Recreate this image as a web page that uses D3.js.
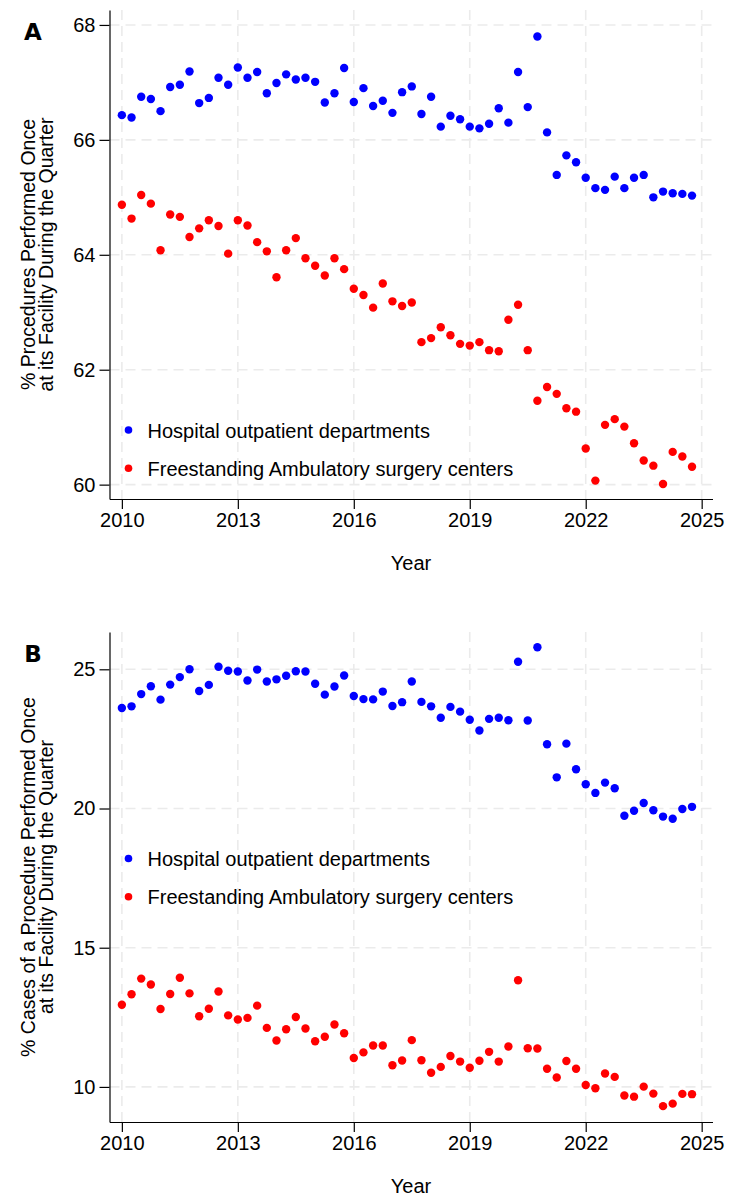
<!DOCTYPE html>
<html>
<head>
<meta charset="utf-8">
<script src="https://cdn.jsdelivr.net/npm/d3@7"></script>
<style>
  body { margin: 0; background: #fff; }
  text { font-family: "Liberation Sans", Arial, sans-serif; fill: #000; }
</style>
</head>
<body>
<div class="chart"></div>
<script>
// quarterly points, 2010 Q1 .. 2024 Q4
var quarters = [
  2010.00, 2010.25, 2010.50, 2010.75, 2011.00, 2011.25, 2011.50, 2011.75,
  2012.00, 2012.25, 2012.50, 2012.75, 2013.00, 2013.25, 2013.50, 2013.75,
  2014.00, 2014.25, 2014.50, 2014.75, 2015.00, 2015.25, 2015.50, 2015.75,
  2016.00, 2016.25, 2016.50, 2016.75, 2017.00, 2017.25, 2017.50, 2017.75,
  2018.00, 2018.25, 2018.50, 2018.75, 2019.00, 2019.25, 2019.50, 2019.75,
  2020.00, 2020.25, 2020.50, 2020.75, 2021.00, 2021.25, 2021.50, 2021.75,
  2022.00, 2022.25, 2022.50, 2022.75, 2023.00, 2023.25, 2023.50, 2023.75,
  2024.00, 2024.25, 2024.50, 2024.75
];

var seriesNames = ["Hospital outpatient departments", "Freestanding Ambulatory surgery centers"];

// panel A: % procedures performed once at its facility
var hopdA = [
  66.43, 66.39, 66.75, 66.71, 66.50, 66.92, 66.96, 67.19, 66.64, 66.73,
  67.08, 66.96, 67.26, 67.08, 67.18, 66.81, 66.99, 67.14, 67.05, 67.08,
  67.01, 66.65, 66.81, 67.25, 66.66, 66.90, 66.59, 66.68, 66.47, 66.83,
  66.93, 66.45, 66.75, 66.23, 66.42, 66.36, 66.23, 66.20, 66.28, 66.55,
  66.30, 67.18, 66.57, 67.80, 66.13, 65.39, 65.73, 65.61, 65.34, 65.16,
  65.13, 65.36, 65.16, 65.34, 65.39, 65.00, 65.10, 65.07, 65.06, 65.03
];
var ascA = [
  64.87, 64.63, 65.04, 64.89, 64.08, 64.70, 64.66, 64.31, 64.46, 64.60,
  64.50, 64.02, 64.60, 64.51, 64.22, 64.06, 63.61, 64.08, 64.29, 63.94,
  63.81, 63.64, 63.94, 63.75, 63.41, 63.30, 63.08, 63.50, 63.19, 63.11,
  63.17, 62.48, 62.55, 62.74, 62.60, 62.45, 62.42, 62.48, 62.34, 62.32,
  62.87, 63.13, 62.34, 61.46, 61.70, 61.58, 61.33, 61.27, 60.63, 60.07,
  61.04, 61.14, 61.01, 60.72, 60.42, 60.33, 60.01, 60.57, 60.49, 60.31
];

// panel B: % cases of a procedure performed once at its facility
var hopdB = [
  23.61, 23.67, 24.11, 24.39, 23.91, 24.45, 24.72, 25.00, 24.22, 24.44,
  25.09, 24.95, 24.92, 24.60, 24.99, 24.56, 24.64, 24.77, 24.93, 24.92,
  24.48, 24.09, 24.38, 24.78, 24.04, 23.93, 23.92, 24.20, 23.68, 23.82,
  24.56, 23.83, 23.67, 23.26, 23.65, 23.48, 23.19, 22.80, 23.22, 23.26,
  23.17, 25.27, 23.16, 25.79, 22.31, 21.12, 22.33, 21.41, 20.87, 20.56,
  20.93, 20.73, 19.74, 19.92, 20.20, 19.94, 19.71, 19.63, 19.98, 20.06
];
var ascB = [
  12.95, 13.33, 13.89, 13.68, 12.80, 13.34, 13.92, 13.36, 12.54, 12.81,
  13.43, 12.57, 12.42, 12.48, 12.92, 12.12, 11.67, 12.07, 12.51, 12.10,
  11.64, 11.80, 12.24, 11.93, 11.04, 11.24, 11.49, 11.49, 10.78, 10.95,
  11.68, 10.96, 10.51, 10.72, 11.11, 10.91, 10.69, 10.94, 11.26, 10.91,
  11.45, 13.83, 11.39, 11.38, 10.65, 10.34, 10.93, 10.65, 10.07, 9.95,
  10.48, 10.36, 9.69, 9.65, 10.01, 9.76, 9.31, 9.40, 9.75, 9.74
];

var xTicks = [2010, 2013, 2016, 2019, 2022, 2025];
var yTicksA = [60, 62, 64, 66, 68];
var yTicksB = [10, 15, 20, 25];

var colors = ["#0000ff", "#ff0000"];

var width = 750,
    height = 1204,
    left = 109.5,
    right = 712.5;

var svg = d3.select(".chart").append("svg")
    .attr("width", width)
    .attr("height", height);

var drawPanel = function(p) {
  var g = svg.append("g");

  var x = d3.scaleLinear().domain([2009.68, 2025.28]).range([left, right]);
  var y = d3.scaleLinear().domain(p.yDomain).range([p.bottom, p.top]);

  // dashed grid
  g.selectAll(".hgrid").data(p.yTicks).enter().append("line")
    .attr("x1", left).attr("x2", right)
    .attr("y1", function(d) { return y(d); })
    .attr("y2", function(d) { return y(d); })
    .attr("stroke", "#ebebeb").attr("stroke-width", 1.6)
    .attr("stroke-dasharray", "10,6");
  g.selectAll(".vgrid").data(xTicks).enter().append("line")
    .attr("y1", p.top).attr("y2", p.bottom)
    .attr("x1", function(d) { return x(d); })
    .attr("x2", function(d) { return x(d); })
    .attr("stroke", "#ebebeb").attr("stroke-width", 1.6)
    .attr("stroke-dasharray", "10,6");

  // axes
  var yAxis = g.append("g")
    .attr("transform", "translate(" + left + ",0)")
    .call(d3.axisLeft(y).tickValues(p.yTicks).tickSize(10).tickSizeOuter(0).tickPadding(4));
  var xAxis = g.append("g")
    .attr("transform", "translate(0," + p.bottom + ")")
    .call(d3.axisBottom(x).tickValues(xTicks).tickFormat(d3.format("d"))
      .tickSize(10).tickSizeOuter(0).tickPadding(4));
  [yAxis, xAxis].forEach(function(a) {
    a.selectAll("text").attr("font-size", 20)
      .style("font-family", "'Liberation Sans', Arial, sans-serif").attr("fill", "#000");
    a.selectAll("line, path").attr("stroke", "#000").attr("stroke-width", 1.2);
  });

  // points
  [p.a, p.b].forEach(function(vals, s) {
    g.append("g").selectAll("circle").data(vals).enter().append("circle")
      .attr("cx", function(d, i) { return x(quarters[i]); })
      .attr("cy", function(d) { return y(d); })
      .attr("r", 4.2)
      .attr("fill", colors[s]);
  });

  // legend
  seriesNames.forEach(function(name, s) {
    var ly = p.legendY + s * 38.3;
    g.append("circle").attr("cx", 128.5).attr("cy", ly).attr("r", 3.8).attr("fill", colors[s]);
    g.append("text").attr("x", 147.5).attr("y", ly + 7.5)
      .attr("font-size", 20).text(name);
  });

  // titles
  var cy = (p.top + p.bottom) / 2;
  g.append("text")
    .attr("transform", "translate(35," + cy + ") rotate(-90)")
    .attr("text-anchor", "middle").attr("font-size", 19.5)
    .text(p.title1);
  g.append("text")
    .attr("transform", "translate(53," + cy + ") rotate(-90)")
    .attr("text-anchor", "middle").attr("font-size", 19.5)
    .text(p.title2);
  g.append("text")
    .attr("x", (left + right) / 2).attr("y", p.bottom + 71)
    .attr("text-anchor", "middle").attr("font-size", 20)
    .text("Year");
  g.append("text")
    .attr("x", 33).attr("y", p.letterY)
    .attr("text-anchor", "middle").attr("font-size", 23)
    .style("font-family", "'DejaVu Sans', sans-serif").attr("font-weight", 900)
    .text(p.letter);
};

drawPanel({
  top: 10, bottom: 499,
  yDomain: [59.75, 68.26], yTicks: yTicksA,
  a: hopdA, b: ascA,
  legendY: 430,
  title1: "% Procedures Performed Once",
  title2: "at its Facility During the Quarter",
  letter: "A", letterY: 40
});

drawPanel({
  top: 632, bottom: 1122,
  yDomain: [8.74, 26.34], yTicks: yTicksB,
  a: hopdB, b: ascB,
  legendY: 858.5,
  title1: "% Cases of a Procedure Performed Once",
  title2: "at its Facility During the Quarter",
  letter: "B", letterY: 662
});
</script>
</body>
</html>
